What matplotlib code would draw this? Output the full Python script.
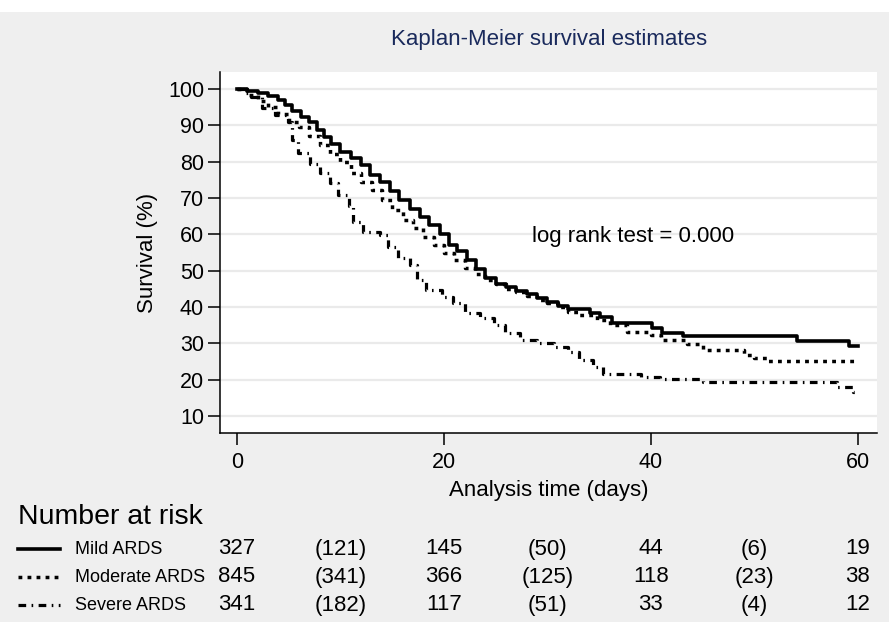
import numpy as np
import matplotlib.pyplot as plt
import matplotlib.transforms as mtransforms
from matplotlib.lines import Line2D
from matplotlib.patches import Rectangle

plt.rcParams['font.family'] = ['Liberation Sans', 'DejaVu Sans']

# Kaplan-Meier step estimates (time in days, survival %)
mild_t = [0, 1, 2, 3, 4, 4.6, 5.3, 6.2, 7, 7.7, 8.4, 9.1, 10, 11, 12, 12.9,
          13.8, 14.8, 15.7, 16.7, 17.7, 18.6, 19.6, 20.5, 21.3, 22.2, 23.1,
          24, 25, 26, 27, 28, 29, 30, 31, 32, 34.1, 35.1, 36.2, 40.1, 41.1,
          43.1, 54.1, 59.1, 60]
mild_s = [100, 99.6, 99, 98, 97, 95.6, 94, 92.4, 91, 88.7, 86.9, 85, 82.7,
          81, 79, 76.3, 74.5, 72, 69.5, 67, 64.8, 62.5, 60, 57.2, 55.5, 53,
          50.5, 48, 46.3, 45.5, 44.5, 43.5, 42.5, 41.5, 40.3, 39.4, 38.4,
          37.3, 35.7, 34.1, 32.9, 32.0, 30.7, 29.3, 29.3]

mod_t = [0, 1, 2, 3, 4, 5, 6, 7, 8, 9, 10, 11, 12, 13, 14, 15, 16, 17, 18,
         19, 20, 21, 22, 23, 24, 25, 26, 27, 28, 29, 30, 31, 32, 33, 34.8, 36,
         37.7, 40, 41, 43.5, 45, 49, 50, 51.2, 60]
mod_s = [100, 98.3, 96.8, 95, 93, 91, 89.6, 87, 84.5, 82, 80, 76.8, 74.5,
         72.2, 69.4, 66.7, 63.9, 61.7, 59.3, 57, 54.8, 53, 50.8, 49, 47.5,
         46.2, 45, 44, 43, 42, 41, 40, 38.5, 37.8, 36.5, 35, 33.2, 32.3,
         30.9, 29.8, 28.2, 26.8, 26, 25, 25]

sev_t = [0, 0.8, 1.4, 2.4, 3.7, 4.9, 5.3, 5.9, 7.1, 8, 9, 9.8, 10.8, 11.2,
         12.2, 13.8, 14.6, 15.6, 16.7, 17.4, 18.3, 19.8, 20.9, 22, 23.5,
         24.8, 25.9, 27.3, 29, 30.6, 32, 33, 34.4, 35.4, 39, 40.9, 45, 58,
         59.5, 60]
sev_s = [100, 99, 97.9, 94.7, 92.8, 91, 86, 82.3, 79.5, 76.8, 74, 70.8,
         67.8, 63.5, 60.7, 59.8, 56.6, 53.6, 51.6, 47.4, 44.7, 42.8, 41,
         38.3, 36.9, 35, 32.8, 31, 30, 29.1, 27.7, 25.4, 23.6, 21.6, 20.8,
         20.2, 19.4, 18.1, 16.7, 16.7]

groups = ['Mild ARDS', 'Moderate ARDS', 'Severe ARDS']
risk_times = [0, 10, 20, 30, 40, 50, 60]
risk_mild = ['327', '(121)', '145', '(50)', '44', '(6)', '19']
risk_mod = ['845', '(341)', '366', '(125)', '118', '(23)', '38']
risk_sev = ['341', '(182)', '117', '(51)', '33', '(4)', '12']

bg = '#efefef'
styles = [dict(ls='-', lw=2.6),
          dict(ls=(0, (1.1, 1.5)), lw=2.5, dash_capstyle='butt'),
          dict(ls=(0, (2.4, 1.7, 0.5, 1.7)), lw=2.3, dash_capstyle='butt')]

fig = plt.figure(figsize=(8.89, 6.22), dpi=100, facecolor=bg)
fig.patches.append(Rectangle((0, 1 - 12 / 622), 1, 12 / 622, transform=fig.transFigure,
                             facecolor='white', edgecolor='none', zorder=0))
ax = fig.add_axes([220 / 889, 1 - 433 / 622, 657 / 889, 361 / 622])
ax.set_facecolor('white')

for t, s, st in zip([mild_t, mod_t, sev_t], [mild_s, mod_s, sev_s], styles):
    ax.plot(t, s, drawstyle='steps-post', color='black', zorder=3, **st)

ax.set_xlim(-1.64, 61.84)
ax.set_ylim(5.3, 104.7)
ax.set_yticks(np.arange(10, 101, 10))
ax.set_xticks([0, 20, 40, 60])
ax.yaxis.grid(True, color='#eaeaea', lw=1.6)
ax.set_axisbelow(True)
for sp in ['top', 'right']:
    ax.spines[sp].set_visible(False)
for sp in ['left', 'bottom']:
    ax.spines[sp].set_linewidth(1.1)
ax.tick_params(length=8.5, width=1.1, labelsize=15.5, pad=3)
ax.tick_params(axis='x', pad=5)
ax.set_ylabel('Survival (%)', fontsize=16, labelpad=7)
ax.set_xlabel('Analysis time (days)', fontsize=16, labelpad=5)
ax.text(28.5, 59.3, 'log rank test = 0.000', fontsize=16, va='center')

fig.text(549 / 889, 1 - 40 / 622, 'Kaplan-Meier survival estimates', ha='center',
         va='center', fontsize=16, color='#1a2a5c')

# number at risk table
fig.text(18 / 889, 1 - 517 / 622, 'Number at risk', fontsize=20.5, va='center')
blend = mtransforms.blended_transform_factory(ax.transData, fig.transFigure)
row_y = [1 - 549 / 622, 1 - 577 / 622, 1 - 605 / 622]
for name, vals, st, y in zip(groups, [risk_mild, risk_mod, risk_sev], styles, row_y):
    fig.lines.append(Line2D([18 / 889, 60 / 889], [y, y], transform=fig.transFigure,
                            color='black', **st))
    fig.text(75 / 889, y, name, fontsize=13, va='center')
    for tt, v in zip(risk_times, vals):
        ax.text(tt, y, v, transform=blend, ha='center', va='center', fontsize=16,
                clip_on=False)

fig.savefig('out.png', dpi=100, facecolor=bg)
